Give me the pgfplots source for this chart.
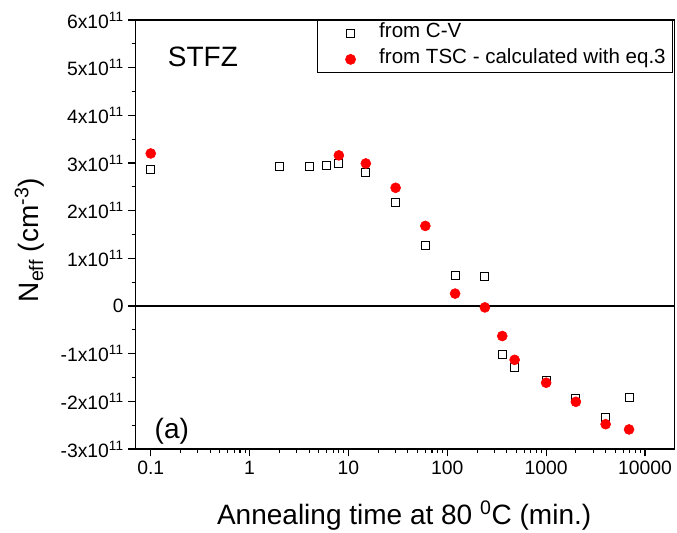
\documentclass[border=0pt]{standalone}
\usepackage{fontspec}
\setmainfont{Liberation Sans}
\usepackage{pgfplots}
\pgfplotsset{compat=1.18}
\begin{document}
\begin{tikzpicture}
\begin{axis}[
  scale only axis,
  width=404.25pt, height=321.75pt,
  xmode=log, xmin=0.0705, xmax=20000,
  ymin=-3, ymax=6,
  axis line style={line width=0.8pt},
  tick align=outside,
  xtick pos=left, ytick pos=left,
  tick style={black, line width=0.8pt},
  major tick length=5.5pt, minor tick length=3pt,
  xtick={0.1,1,10,100,1000,10000},
  xticklabels={0.1,1,10,100,1000,10000},
  ytick={-3,-2,-1,0,1,2,3,4,5,6},
  yticklabels={-3x10\textsuperscript{11},-2x10\textsuperscript{11},-1x10\textsuperscript{11},0,1x10\textsuperscript{11},2x10\textsuperscript{11},3x10\textsuperscript{11},4x10\textsuperscript{11},5x10\textsuperscript{11},6x10\textsuperscript{11}},
  minor y tick num=1,
  ticklabel style={font=\fontsize{14.5}{17}\selectfont},
  xlabel={Annealing time at 80 \textsuperscript{0}C (min.)},
  ylabel={N\textsubscript{eff} (cm\textsuperscript{-3})},
  label style={font=\fontsize{21}{25}\selectfont},
  xlabel style={at={(axis description cs:0.498,-0.177)}, anchor=base},
  ylabel style={at={(axis description cs:-0.197,0.487)}, anchor=center, rotate=0},
  legend cell align=left,
  legend style={at={(rel axis cs:1,1)}, anchor=north east, xshift=-1.5pt,
    draw=black, line width=0.6pt, inner xsep=3pt, inner ysep=0pt,
    font=\fontsize{15.4}{18}\selectfont,
    nodes={inner sep=2pt, text height=11pt, text depth=4.5pt}},
  legend image code/.code={\path[draw=none] (-22pt,0pt) (19.5pt,0pt); \draw[#1] plot coordinates {(0pt,0pt)};},
]
\addplot[black, line width=0.8pt, forget plot] coordinates {(0.0705,0) (20000,0)};
\addplot[only marks, mark=square*, mark size=3pt, mark options={draw=black, fill=white, line width=0.7pt}]
  coordinates {(0.1,2.87) (2,2.93) (4,2.93) (6,2.95) (8,2.98) (15,2.80) (30,2.17) (60,1.26) (120,0.63) (240,0.61) (360,-1.01) (480,-1.28) (1000,-1.565) (2000,-1.94) (4000,-2.34) (6900,-1.92)};
\addlegendentry{from C-V}
\addplot[only marks, mark=*, mark size=3.75pt, mark options={draw=red, fill=red}]
  coordinates {(0.1,3.20) (8,3.16) (15,2.99) (30,2.48) (60,1.68) (120,0.26) (240,-0.03) (360,-0.63) (480,-1.13) (1000,-1.61) (2000,-2.01) (4000,-2.48) (6900,-2.59)};
\addlegendentry{from TSC - calculated with eq.3}
\node[anchor=west, font=\fontsize{21}{25}\selectfont] at (rel axis cs:0.051,0.914) {STFZ};
\node[anchor=west, font=\fontsize{21}{25}\selectfont] at (rel axis cs:0.0265,0.042) {(a)};
\end{axis}
\pgfresetboundingbox
\path ([xshift=-101.8pt, yshift=-63pt]current axis.south west) rectangle ([xshift=1.7pt, yshift=15pt]current axis.north east);
\end{tikzpicture}
\end{document}
